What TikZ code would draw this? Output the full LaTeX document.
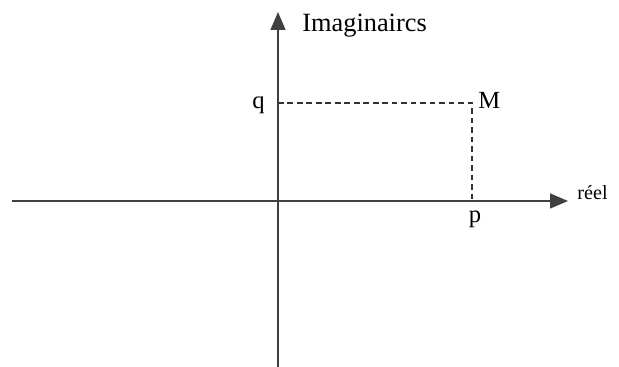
\documentclass[tikz,border=0pt]{standalone}
\usepackage{fontspec}
\setmainfont{Liberation Serif}
\usetikzlibrary{arrows.meta, positioning}

\begin{document}
\begin{tikzpicture}[
    x=0.02cm, y=-0.02cm,
    >= {Triangle[length=3.6mm, width=3.0mm]},
    axis/.style={draw=black!75, line width=0.8pt},
    guide/.style={draw=black!80, line width=0.6pt, dash pattern=on 3.2pt off 2.2pt},
    biglabel/.style={font=\fontsize{15}{18}\selectfont, inner sep=0pt},
    ptlabel/.style={font=\fontsize{14}{17}\selectfont, inner sep=0pt},
    ]

    \useasboundingbox (0,0) rectangle (619,367);

    % Axes end points
    \coordinate (xmin) at (12,201);
    \coordinate (xmax) at (568,201);
    \coordinate (ymin) at (278,367);
    \coordinate (ymax) at (278,12);

    % Point M and its projections
    \coordinate (O) at (278,201);
    \coordinate (M) at (472,103);
    \coordinate (P) at (472,201);
    \coordinate (Q) at (278,103);

    % Axes
    \draw[axis, ->] (xmin) -- (xmax);
    \draw[axis, ->] (ymin) -- (ymax);

    % Dashed guides
    \draw[guide] (Q) -- (M) -- (P);

    % Labels
    \node[biglabel, anchor=base west] (lblim) at (302,32) {Imaginaircs};
    \node[ptlabel, font=\fontsize{11.5}{14}\selectfont, anchor=base west] (lblre) at (577,200) {réel};
    \node[ptlabel, anchor=base east] (lblq) at (265,109) {q};
    \node[ptlabel, anchor=base west] (lblM) at (478,109) {M};
    \node[ptlabel, anchor=base] (lblp) at (475,223) {p};

\end{tikzpicture}
\end{document}
